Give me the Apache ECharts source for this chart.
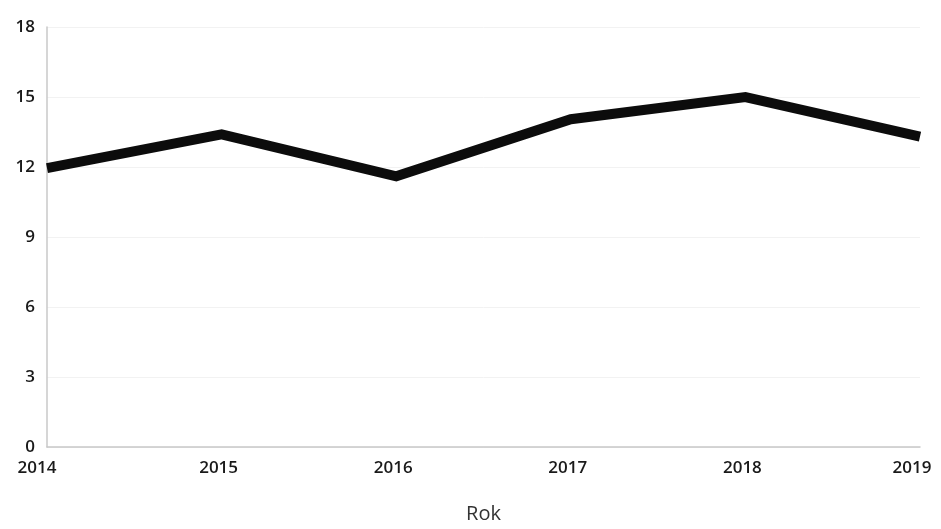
<!DOCTYPE html>
<html>
<head>
<meta charset="utf-8">
<script src="https://cdn.jsdelivr.net/npm/echarts@6/dist/echarts.min.js"></script>
<style>
html,body{margin:0;padding:0;background:#fff;}
#c{width:941px;height:529px;}
</style>
</head>
<body>
<div id="c"></div>
<script>
const categories = ['2014', '2015', '2016', '2017', '2018', '2019'];
const values = [11.95, 13.4, 11.6, 14.05, 15.0, 13.3];
const yTicks = { min: 0, max: 18, interval: 3 };
const xAxisName = 'Rok';

const labelFont = { fontFamily: 'Open Sans', fontSize: 17, fontWeight: 600, color: '#1a1a1a' };

const chart = echarts.init(document.getElementById('c'));
chart.setOption({
  animation: false,
  backgroundColor: '#ffffff',
  grid: { left: 47, right: 21, top: 27, bottom: 81, containLabel: false },
  xAxis: {
    type: 'category',
    data: categories,
    boundaryGap: false,
    name: xAxisName,
    nameLocation: 'middle',
    nameGap: 57,
    nameTextStyle: { fontFamily: 'Open Sans', fontSize: 20, color: '#333' },
    axisLine: { show: true, lineStyle: { color: '#c8c8c8', width: 1.5 } },
    axisTick: { show: false },
    axisLabel: Object.assign({}, labelFont, {
      margin: 13,
      formatter: function (v, i) {
        if (i === 0) return '{first|' + v + '}';
        if (i === categories.length - 1) return '{last|' + v + '}';
        return '{mid|' + v + '}';
      },
      rich: {
        first: Object.assign({}, labelFont, { padding: [0, 20, 0, 0] }),
        last: Object.assign({}, labelFont, { padding: [0, 16, 0, 0] }),
        mid: Object.assign({}, labelFont, { padding: [0, 6, 0, 0] })
      }
    }),
    splitLine: { show: false }
  },
  yAxis: {
    type: 'value',
    min: yTicks.min, max: yTicks.max, interval: yTicks.interval,
    axisLine: { show: true, lineStyle: { color: '#c8c8c8', width: 1.5 } },
    axisTick: { show: false },
    axisLabel: Object.assign({}, labelFont, { margin: 12 }),
    splitLine: { show: true, lineStyle: { color: '#f2f2f2', width: 1 } }
  },
  series: [{
    type: 'line',
    data: values,
    symbol: 'none',
    lineStyle: { color: '#0c0c0c', width: 10, join: 'miter', cap: 'butt' }
  }]
});
</script>
</body>
</html>
